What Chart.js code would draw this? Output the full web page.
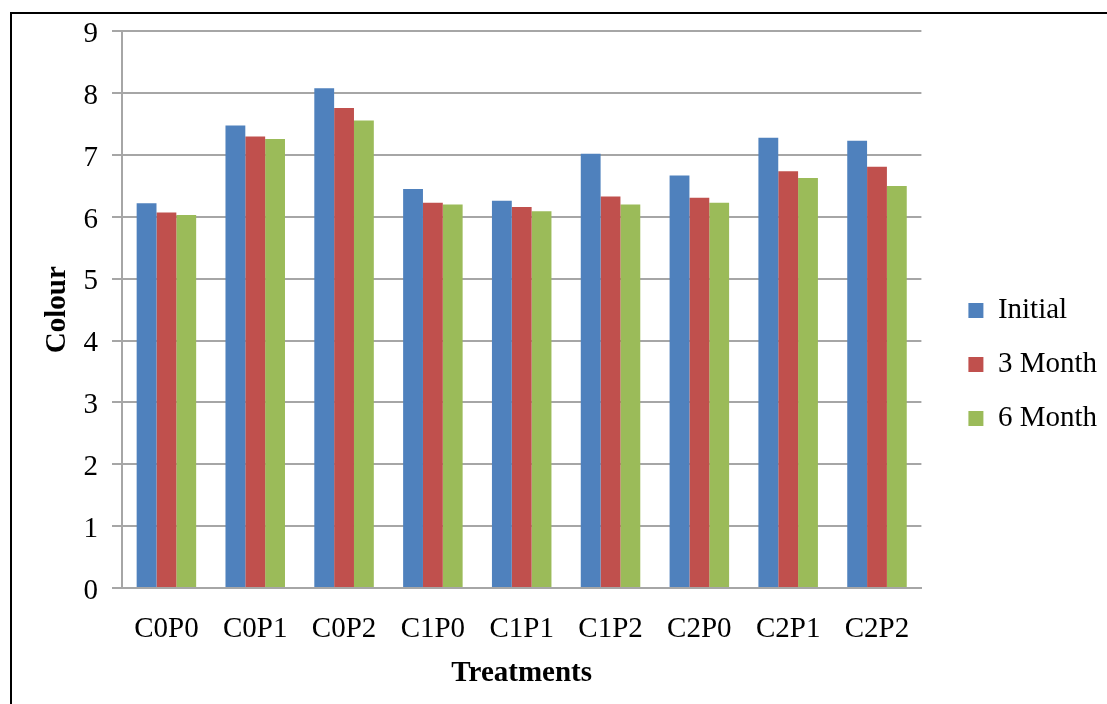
<!DOCTYPE html>
<html>
<head>
<meta charset="utf-8">
<script src="https://cdn.jsdelivr.net/npm/chart.js@4"></script>
<style>
  html, body { margin: 0; padding: 0; background: #fff; }
  #wrap { position: relative; width: 1107px; height: 704px; }
  #frame { position: absolute; left: 10px; top: 12px; right: 0; bottom: 0; border-left: 2px solid #000; border-top: 2px solid #000; }
  canvas { position: absolute; left: 0; top: 0; }
</style>
</head>
<body>
<div id="wrap">
  <div id="frame"></div>
  <canvas id="chart" width="1107" height="704"></canvas>
</div>
<script>
// ---- data ----
const treatments = ['C0P0', 'C0P1', 'C0P2', 'C1P0', 'C1P1', 'C1P2', 'C2P0', 'C2P1', 'C2P2']
const initial = [6.22, 7.48, 8.08, 6.45, 6.26, 7.02, 6.67, 7.28, 7.23]
const month3 = [6.07, 7.30, 7.76, 6.23, 6.16, 6.33, 6.31, 6.74, 6.81]
const month6 = [6.03, 7.26, 7.56, 6.20, 6.09, 6.20, 6.23, 6.63, 6.50]
const yTicks = [0, 1, 2, 3, 4, 5, 6, 7, 8, 9]

const serif = '"Liberation Serif", "Times New Roman", serif'
const gridGray = '#a6a6a6'
const fontSize = 29

// push the legend a bit away from the plot, like the original
const legendGap = {
  id: 'legendGap',
  afterLayout(chart) {
    chart.legend.left += 22
    chart.legend.right += 22
  },
}

const ctx = document.getElementById('chart')

const myChart = new Chart(ctx, {
  type: 'bar',
  data: {
    labels: treatments,
    datasets: [
      { label: 'Initial', data: initial, backgroundColor: '#4f81bd', borderWidth: 0 },
      { label: '3 Month', data: month3, backgroundColor: '#c0504d', borderWidth: 0 },
      { label: '6 Month', data: month6, backgroundColor: '#9bbb59', borderWidth: 0 },
    ],
  },
  plugins: [legendGap],
  options: {
    responsive: false,
    animation: false,
    devicePixelRatio: 1,
    categoryPercentage: 0.67,
    barPercentage: 1,
    layout: {
      padding: { top: 25, right: 22, bottom: 0, left: 30 },
    },
    scales: {
      x: {
        afterFit: (scale) => {
          scale.height = 116
        },
        grid: { display: false },
        border: { display: true, color: gridGray, width: 2 },
        ticks: { color: '#000', font: { family: serif, size: fontSize }, padding: 16, maxRotation: 0 },
        title: {
          display: true,
          text: 'Treatments',
          color: '#000',
          font: { family: serif, size: fontSize, weight: 'bold' },
          padding: { top: 6, bottom: 13 },
        },
      },
      y: {
        min: 0,
        max: 9,
        afterBuildTicks: (scale) => {
          scale.ticks = yTicks.map((v) => ({ value: v }))
        },
        afterFit: (scale) => {
          scale.width = 92
        },
        grid: { color: gridGray, lineWidth: 2, tickLength: 10, drawTicks: true },
        border: { display: true, color: gridGray, width: 2 },
        ticks: { color: '#000', font: { family: serif, size: fontSize }, padding: 14, labelOffset: 3 },
        title: {
          display: true,
          text: 'Colour',
          color: '#000',
          font: { family: serif, size: fontSize, weight: 'bold' },
          padding: { top: 10, bottom: 0 },
        },
      },
    },
    plugins: {
      legend: {
        position: 'right',
        align: 'center',
        labels: {
          color: '#000',
          font: { family: serif, size: fontSize },
          boxWidth: 15,
          boxHeight: 15,
          padding: 25,
        },
      },
      tooltip: { enabled: false },
    },
  },
})
</script>
</body>
</html>
